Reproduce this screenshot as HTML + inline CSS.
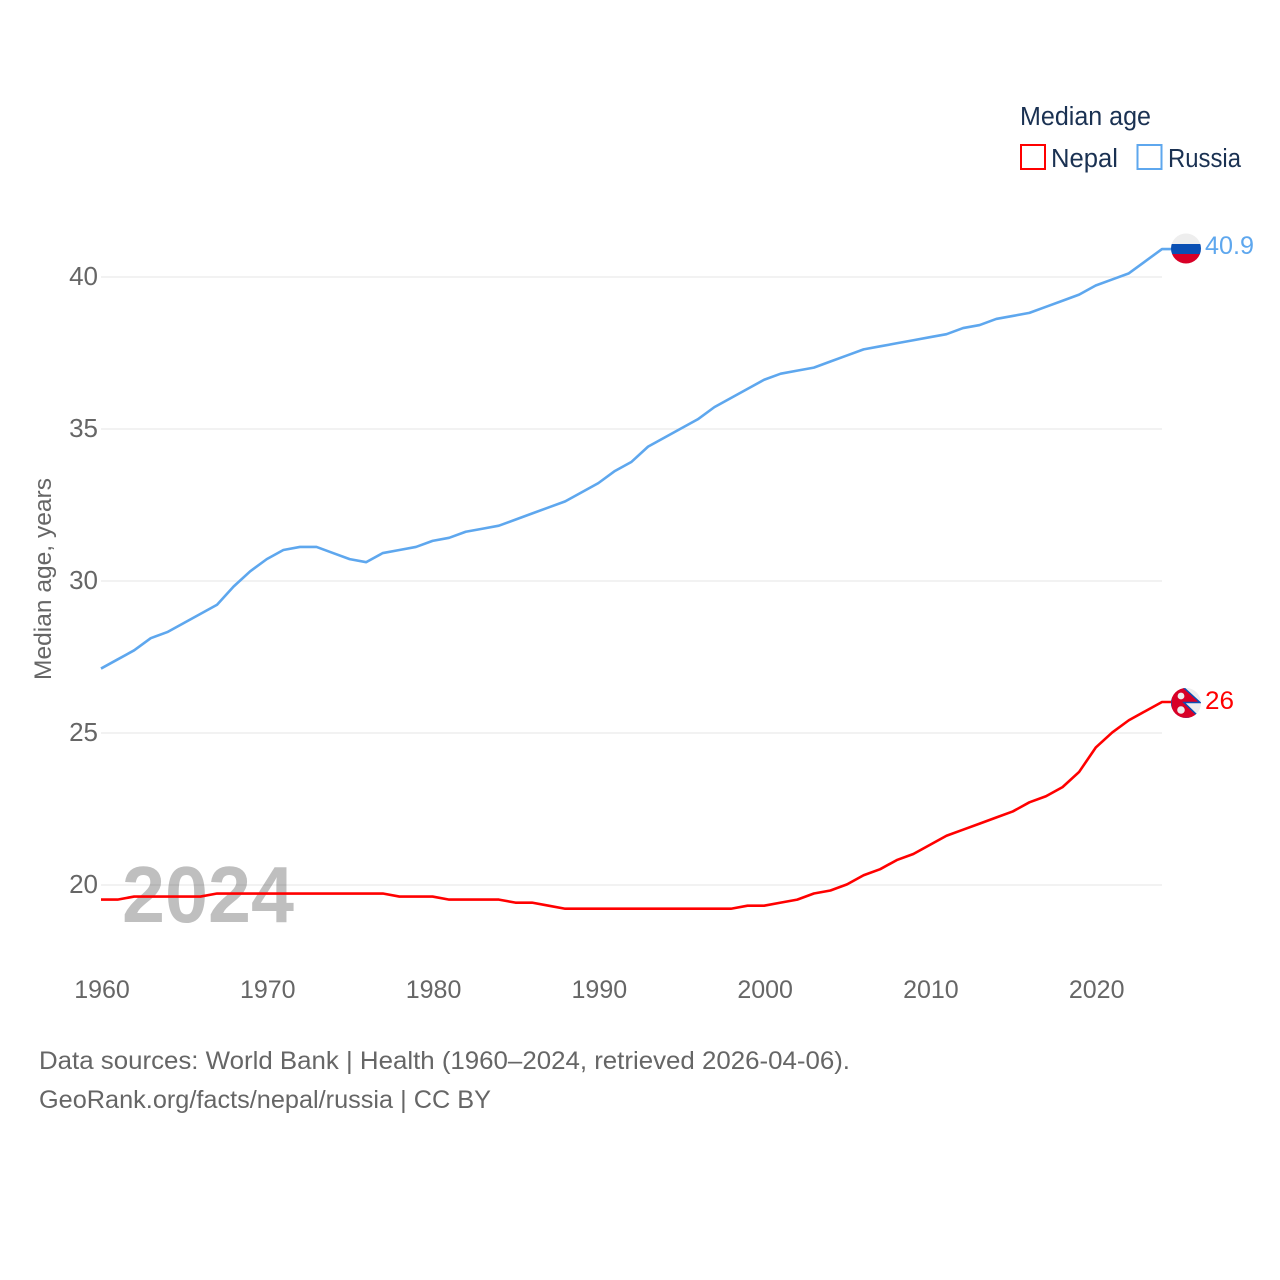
<!DOCTYPE html>
<html lang="en">
<head>
<meta charset="utf-8">
<title>Median age: Nepal and Russia</title>
<style>
html,body{margin:0;padding:0;background:#fff;width:1280px;height:1280px;overflow:hidden}
svg{display:block}
text{font-family:"Liberation Sans",sans-serif}
</style>
</head>
<body>
<svg id="chart" xmlns="http://www.w3.org/2000/svg" width="1280" height="1280" viewBox="0 0 1280 1280">
  <defs>
    <clipPath id="flag-clip-ru"><circle cx="1186" cy="248.5" r="15"/></clipPath>
    <clipPath id="flag-clip-np"><circle cx="1186" cy="703" r="15"/></clipPath>
  </defs>
  <g id="grid"></g>
  <g id="yticks"></g>
  <g id="xticks"></g>
  <text x="122" y="922" font-size="80" font-weight="bold" fill="#000" fill-opacity="0.25" textLength="172" lengthAdjust="spacingAndGlyphs">2024</text>
  <text transform="translate(51,680) rotate(-90)" font-size="24.5" fill="#666" textLength="202" lengthAdjust="spacingAndGlyphs">Median age, years</text>
  <g id="series" transform="translate(0,-0.6)"></g>

  <g clip-path="url(#flag-clip-ru)">
    <rect x="1171" y="233.5" width="30" height="10.5" fill="#eeeeee"/>
    <rect x="1171" y="244" width="30" height="10" fill="#0a50b4"/>
    <rect x="1171" y="254" width="30" height="10" fill="#d80027"/>
  </g>
  <text id="label-russia" x="1205" y="254" font-size="25" fill="#5ea7ee" textLength="49" lengthAdjust="spacingAndGlyphs">40.9</text>

  <g clip-path="url(#flag-clip-np)">
    <rect x="1171" y="688" width="30" height="30" fill="#eeeeee"/>
    <polygon points="1171,676 1200,702.5 1184,702.5 1200,718 1171,719" fill="#d80027" stroke="#0a50b4" stroke-width="1.5"/>
    <circle cx="1181" cy="696" r="3.4" fill="#eeeeee"/>
    <circle cx="1181" cy="710" r="3.8" fill="#eeeeee"/>
  </g>
  <text id="label-nepal" x="1205" y="709" font-size="25" fill="#ff0000" textLength="29" lengthAdjust="spacingAndGlyphs">26</text>

  <g>
    <text x="1020" y="125" font-size="25.5" fill="#1a3152" textLength="131" lengthAdjust="spacingAndGlyphs">Median age</text>
    <rect x="1021" y="145" width="24" height="24" fill="#fff" stroke="#ff0000" stroke-width="2"/>
    <text x="1051" y="167" font-size="25.5" fill="#1a3152" textLength="67" lengthAdjust="spacingAndGlyphs">Nepal</text>
    <rect x="1137.5" y="145" width="24" height="24" fill="#fff" stroke="#5ea7ee" stroke-width="2"/>
    <text x="1168" y="167" font-size="25.5" fill="#1a3152" textLength="73" lengthAdjust="spacingAndGlyphs">Russia</text>
  </g>

  <g>
    <text x="39" y="1069" font-size="25" fill="#666" textLength="811" lengthAdjust="spacingAndGlyphs">Data sources: World Bank | Health (1960–2024, retrieved 2026-04-06).</text>
    <text x="39" y="1108" font-size="25" fill="#666" textLength="452" lengthAdjust="spacingAndGlyphs">GeoRank.org/facts/nepal/russia | CC BY</text>
  </g>
</svg>
<script>
const years = [1960,1961,1962,1963,1964,1965,1966,1967,1968,1969,1970,1971,1972,1973,1974,1975,1976,1977,1978,1979,1980,1981,1982,1983,1984,1985,1986,1987,1988,1989,1990,1991,1992,1993,1994,1995,1996,1997,1998,1999,2000,2001,2002,2003,2004,2005,2006,2007,2008,2009,2010,2011,2012,2013,2014,2015,2016,2017,2018,2019,2020,2021,2022,2023,2024];
const russiaValues = [27.1,27.4,27.7,28.1,28.3,28.6,28.9,29.2,29.8,30.3,30.7,31.0,31.1,31.1,30.9,30.7,30.6,30.9,31.0,31.1,31.3,31.4,31.6,31.7,31.8,32.0,32.2,32.4,32.6,32.9,33.2,33.6,33.9,34.4,34.7,35.0,35.3,35.7,36.0,36.3,36.6,36.8,36.9,37.0,37.2,37.4,37.6,37.7,37.8,37.9,38.0,38.1,38.3,38.4,38.6,38.7,38.8,39.0,39.2,39.4,39.7,39.9,40.1,40.5,40.9];
const nepalValues = [19.5,19.5,19.6,19.6,19.6,19.6,19.6,19.7,19.7,19.7,19.7,19.7,19.7,19.7,19.7,19.7,19.7,19.7,19.6,19.6,19.6,19.5,19.5,19.5,19.5,19.4,19.4,19.3,19.2,19.2,19.2,19.2,19.2,19.2,19.2,19.2,19.2,19.2,19.2,19.3,19.3,19.4,19.5,19.7,19.8,20.0,20.3,20.5,20.8,21.0,21.3,21.6,21.8,22.0,22.2,22.4,22.7,22.9,23.2,23.7,24.5,25.0,25.4,25.7,26.0];
const xTickLabels = [1960,1970,1980,1990,2000,2010,2020];
const yTickLabels = [20,25,30,35,40];

const NS = 'http://www.w3.org/2000/svg';
function xScale(year){ return 101 + (year - 1960) * (1162 - 101) / 64; }
function yScale(value){ return 885 - (value - 20) * 30.4; }

const gridGroup = document.getElementById('grid');
const yGroup = document.getElementById('yticks');
const xGroup = document.getElementById('xticks');
const seriesGroup = document.getElementById('series');

yTickLabels.forEach(function(tick){
  const line = document.createElementNS(NS,'line');
  
  
  line.setAttribute('x1', 101);
  line.setAttribute('x2', 1162);
  line.setAttribute('y1', yScale(tick));
  line.setAttribute('y2', yScale(tick));
  line.setAttribute('stroke', '#ebebeb');
  line.setAttribute('stroke-width', '1.3');
  gridGroup.appendChild(line);

  const label = document.createElementNS(NS,'text');
  
  
  label.setAttribute('x', 98);
  label.setAttribute('y', yScale(tick) + 8);
  label.setAttribute('text-anchor', 'end');
  label.setAttribute('font-size', '26');
  label.setAttribute('fill', '#666');
  label.textContent = tick;
  yGroup.appendChild(label);
});

xTickLabels.forEach(function(tick){
  const label = document.createElementNS(NS,'text');
  
  
  label.setAttribute('x', xScale(tick) + 1);
  label.setAttribute('y', 998);
  label.setAttribute('text-anchor', 'middle');
  label.setAttribute('font-size', '25');
  label.setAttribute('fill', '#666');
  label.textContent = tick;
  xGroup.appendChild(label);
});

function drawSeries(values, color){
  let pts = years.map(function(y,i){ return xScale(y).toFixed(2) + ',' + yScale(values[i]).toFixed(2); });
  pts.push('1186,' + yScale(values[values.length-1]).toFixed(2));
  const path = document.createElementNS(NS,'polyline');
  path.setAttribute('points', pts.join(' '));
  path.setAttribute('fill', 'none');
  path.setAttribute('stroke', color);
  path.setAttribute('stroke-width', '2.6');
  path.setAttribute('stroke-linejoin', 'round');
  seriesGroup.appendChild(path);
  return path;
}
const nepalLine = drawSeries(nepalValues, '#ff0000');


const russiaLine = drawSeries(russiaValues, '#5ea7ee');


</script>
</body>
</html>
